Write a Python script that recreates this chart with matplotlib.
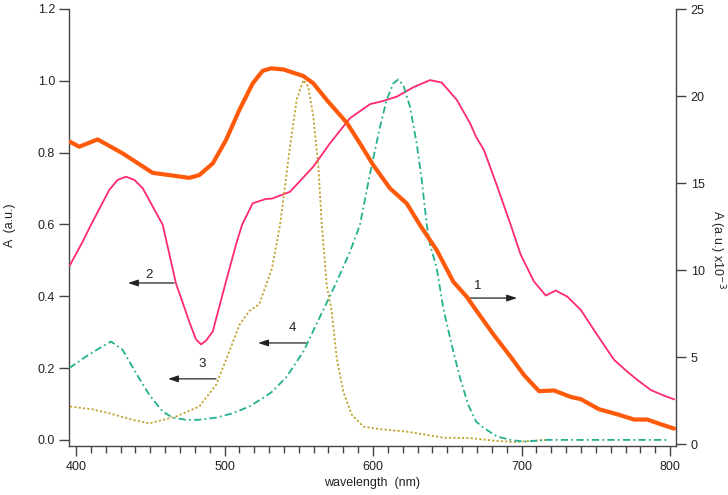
import matplotlib
matplotlib.use("Agg")
import matplotlib.pyplot as plt
from matplotlib.ticker import MultipleLocator

plt.rcParams['font.family'] = ['Liberation Sans', 'DejaVu Sans']

# Curve 1 (orange, right axis, x10^-3)
wl1 = [396.0, 402.2, 414.6, 431.4, 451.6, 462.8, 476.3, 483.0, 492.1, 501.0, 510.0, 519.0,
       525.7, 531.3, 539.6, 553.1, 559.8, 569.9, 582.3, 591.2, 600.2, 611.4, 622.7, 631.6,
       642.9, 654.1, 663.1, 669.4, 681.5, 692.7, 701.7, 711.8, 721.9, 733.1, 739.9, 752.2,
       764.5, 775.8, 784.7, 793.7, 802.7]
a1 = [17.37, 17.09, 17.51, 16.71, 15.59, 15.46, 15.30, 15.46, 16.13, 17.47, 19.20, 20.73,
      21.45, 21.59, 21.53, 21.15, 20.73, 19.67, 18.47, 17.28, 16.03, 14.70, 13.83, 12.59,
      11.15, 9.33, 8.47, 7.70, 6.26, 5.02, 3.97, 3.05, 3.09, 2.72, 2.59, 2.01,
      1.72, 1.42, 1.42, 1.15, 0.90]

# Curve 2 (pink, left axis)
wl2 = [396.0, 404.5, 410.1, 422.4, 428.0, 433.7, 439.3, 444.9, 458.4, 467.3, 476.3, 480.8,
       484.2, 487.5, 492.1, 501.0,
       507.7, 511.8, 519.0, 527.9, 532.0, 544.1, 559.8, 571.0, 584.5, 598.0, 606.9, 616.0,
       627.1, 638.4, 646.3, 656.4, 665.3, 669.4, 674.7, 683.7, 692.7, 699.5, 708.4, 716.3,
       723.0, 730.8, 739.9, 751.0, 762.3, 771.2, 778.0, 787.0, 796.0, 802.7]
a2 = [0.487, 0.552, 0.599, 0.696, 0.724, 0.733, 0.724, 0.701, 0.599, 0.436, 0.329, 0.280,
      0.266, 0.276, 0.302, 0.441,
      0.543, 0.599, 0.659, 0.671, 0.672, 0.691, 0.761, 0.826, 0.896, 0.935, 0.944, 0.956,
      0.982, 1.002, 0.995, 0.947, 0.882, 0.844, 0.807, 0.705, 0.599, 0.515, 0.441, 0.402,
      0.416, 0.399, 0.362, 0.292, 0.223, 0.190, 0.167, 0.139, 0.123, 0.113]

# Curve 3 (olive dotted, left axis)
wl3 = [396.0, 411.2, 422.4, 438.2, 449.4, 467.3, 483.0, 494.3, 503.2, 510.0, 516.7, 523.4,
       532.0, 537.4, 540.7, 544.1, 548.6, 553.1, 556.4, 559.8, 563.2, 565.5, 568.8, 572.2,
       575.6, 580.0, 585.7, 593.5, 604.7, 622.7, 636.2, 647.3, 665.3, 681.5, 695.0, 708.4, 718.0]
a3 = [0.093, 0.085, 0.074, 0.056, 0.046, 0.065, 0.093, 0.153, 0.246, 0.320, 0.359, 0.378,
      0.478, 0.599, 0.705, 0.817, 0.947, 1.002, 0.984, 0.900, 0.761, 0.599, 0.432, 0.357,
      0.227, 0.134, 0.070, 0.037, 0.030, 0.023, 0.014, 0.006, 0.005, -0.002, -0.006, -0.002, 0.0]

# Curve 4 (teal dash-dot, left axis)
wl4 = [395.5, 406.7, 415.7, 423.6, 431.4, 440.4, 449.4, 458.4, 465.1, 474.1, 483.0, 494.3,
       505.5, 516.7, 525.7, 532.0, 541.9, 553.1, 564.3, 575.6, 584.5, 591.2, 598.0, 604.7,
       609.2, 613.7, 617.0, 620.4, 624.9, 629.4, 632.8, 636.2, 638.4, 642.9, 647.3, 653.0,
       658.6, 664.2, 669.4, 674.7, 683.7, 692.7, 701.7, 717.4, 799.3]
a4 = [0.200, 0.232, 0.255, 0.274, 0.251, 0.186, 0.125, 0.079, 0.062, 0.056, 0.056, 0.062,
      0.074, 0.093, 0.116, 0.134, 0.176, 0.246, 0.343, 0.441, 0.524, 0.599, 0.742, 0.872,
      0.947, 0.993, 1.004, 0.988, 0.928, 0.826, 0.724, 0.599, 0.543, 0.478, 0.367, 0.264,
      0.172, 0.097, 0.051, 0.033, 0.009, 0.0, -0.005, 0.0, 0.0]

left_ticks = [0.0, 0.2, 0.4, 0.6, 0.8, 1.0, 1.2]
right_ticks = [0, 5, 10, 15, 20, 25]
x_ticks = [400, 500, 600, 700, 800]

c_orange = '#ff5a0a'
c_pink = '#ff2a6a'
c_olive = '#c4a332'
c_teal = '#22b08e'
c_axis = '#444444'
c_text = '#222222'

fig = plt.figure(figsize=(7.28, 4.95), dpi=100)
ax = fig.add_axes([69/728, 1-446/495, (676-69)/728, (446-9)/495])
ax2 = ax.twinx()

ax.plot(wl2, a2, color=c_pink, lw=1.3, zorder=3)
ax.plot(wl3, a3, color=c_olive, lw=1.3, linestyle=(0, (1.2, 1.2)), zorder=3)
ax.plot(wl4, a4, color=c_teal, lw=1.3, linestyle=(0, (4, 1.8, 1, 1.8)), zorder=3)
ax2.plot(wl1, a1, color=c_orange, lw=3.0, solid_capstyle='round', zorder=3)

ax.set_xlim(395.3, 804)
ax.set_ylim(-0.017, 1.2)
ax2.set_ylim(-0.1, 25)

ax.set_xticks(x_ticks)
ax.xaxis.set_minor_locator(MultipleLocator(10))
ax.set_yticks(left_ticks)
ax.set_yticklabels([f"{v:.1f}" for v in left_ticks])
ax2.set_yticks(right_ticks)

for a in (ax, ax2):
    a.spines['top'].set_visible(False)
    for s in a.spines.values():
        s.set_color(c_axis)
        s.set_linewidth(1.0)
    a.tick_params(which='both', direction='out', colors=c_text, labelsize=9,
                  width=1.0)
    a.tick_params(which='major', length=7, color=c_axis)
    a.tick_params(which='minor', length=5, color=c_axis)
ax.spines['right'].set_visible(False)
ax2.spines['left'].set_visible(False)
ax2.spines['bottom'].set_visible(False)
ax.tick_params(axis='y', pad=3)
ax.tick_params(axis='x', pad=4)

ax.set_xlabel('wavelength  (nm)', fontsize=9, color=c_text, va='center')
ax.xaxis.set_label_coords(0.5, -0.0854)
ax.set_ylabel('A  (a.u.)', fontsize=9, color=c_text, va='center')
ax.yaxis.set_label_coords(-0.097, 0.505)
ax2.set_ylabel(r'A (a.u.) x10$^{-3}$', fontsize=9, color=c_text, rotation=270,
               va='center')
ax2.yaxis.set_label_coords(1.068, 0.45)

arrow_kw = dict(arrowstyle='-|>,head_length=0.6,head_width=0.2', color=c_text, lw=0.9,
                shrinkA=0, shrinkB=0)
arrows = [((664.6, 0.395), (697.0, 0.395), '1', (670.7, 0.429)),
          ((466.0, 0.437), (435.0, 0.437), '2', (449.2, 0.459)),
          ((494.3, 0.170), (462.0, 0.170), '3', (484.8, 0.212)),
          ((554.9, 0.270), (522.6, 0.270), '4', (545.5, 0.312))]
for start, end, lab, lpos in arrows:
    ax.annotate('', xy=end, xytext=start, arrowprops=arrow_kw, zorder=5)
    ax.text(lpos[0], lpos[1], lab, fontsize=9.5, ha='center', va='center', color=c_text)

fig.savefig('out.png', dpi=100)
